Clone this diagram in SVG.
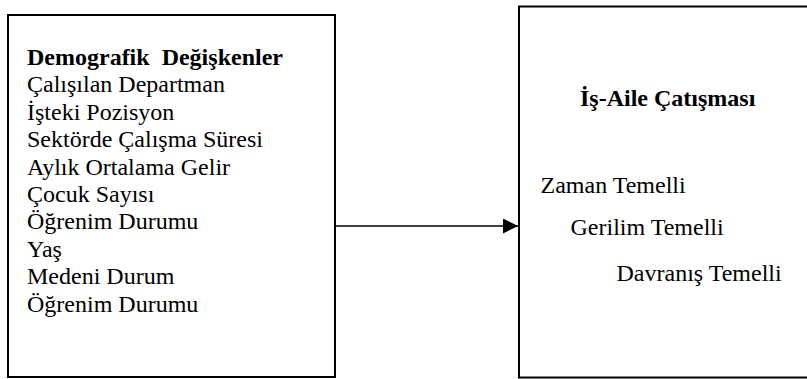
<svg xmlns="http://www.w3.org/2000/svg" width="807" height="379" viewBox="0 0 807 379">
  <defs>
    <style>
      .box { fill: #ffffff; stroke: #000000; stroke-width: 2; }
      .t { font-family: "Liberation Serif", "Times New Roman", Times, serif; font-size: 24px; fill: #000000; white-space: pre; }
      .b { font-weight: bold; }
      .conn { stroke: #000000; stroke-width: 1.3; fill: none; }
    </style>
    <marker id="arrow" markerWidth="16" markerHeight="16" viewBox="0 0 16 16" refX="15" refY="7.5" orient="auto" markerUnits="userSpaceOnUse">
      <polygon points="0,0 15,7.5 0,15" fill="#000000"/>
    </marker>
  </defs>
  <rect width="807" height="379" fill="#ffffff"/>
  <g id="demografik">
    <rect class="box" x="8" y="15" width="327" height="362"/>
    <text class="t b" x="27" y="65" xml:space="preserve">Demografik  Değişkenler</text>
    <text class="t" x="27" y="92.4">Çalışılan Departman</text>
    <text class="t" x="27" y="119.8">İşteki Pozisyon</text>
    <text class="t" x="27" y="147.2">Sektörde Çalışma Süresi</text>
    <text class="t" x="27" y="174.6">Aylık Ortalama Gelir</text>
    <text class="t" x="27" y="202">Çocuk Sayısı</text>
    <text class="t" x="27" y="229.4">Öğrenim Durumu</text>
    <text class="t" x="27" y="256.8">Yaş</text>
    <text class="t" x="27" y="284.2">Medeni Durum</text>
    <text class="t" x="27" y="311.6">Öğrenim Durumu</text>
  </g>
  <g id="is-aile">
    <rect class="box" x="519" y="6.5" width="300" height="371"/>
    <text class="t b" x="580" y="106">İş-Aile Çatışması</text>
    <text class="t" x="540.5" y="193.3">Zaman Temelli</text>
    <text class="t" x="570.5" y="235">Gerilim Temelli</text>
    <text class="t" x="616.5" y="280.5">Davranış Temelli</text>
  </g>
  <g id="connectors">
    <line class="conn" x1="336" y1="226" x2="518" y2="226" marker-end="url(#arrow)"/>
  </g>
</svg>
